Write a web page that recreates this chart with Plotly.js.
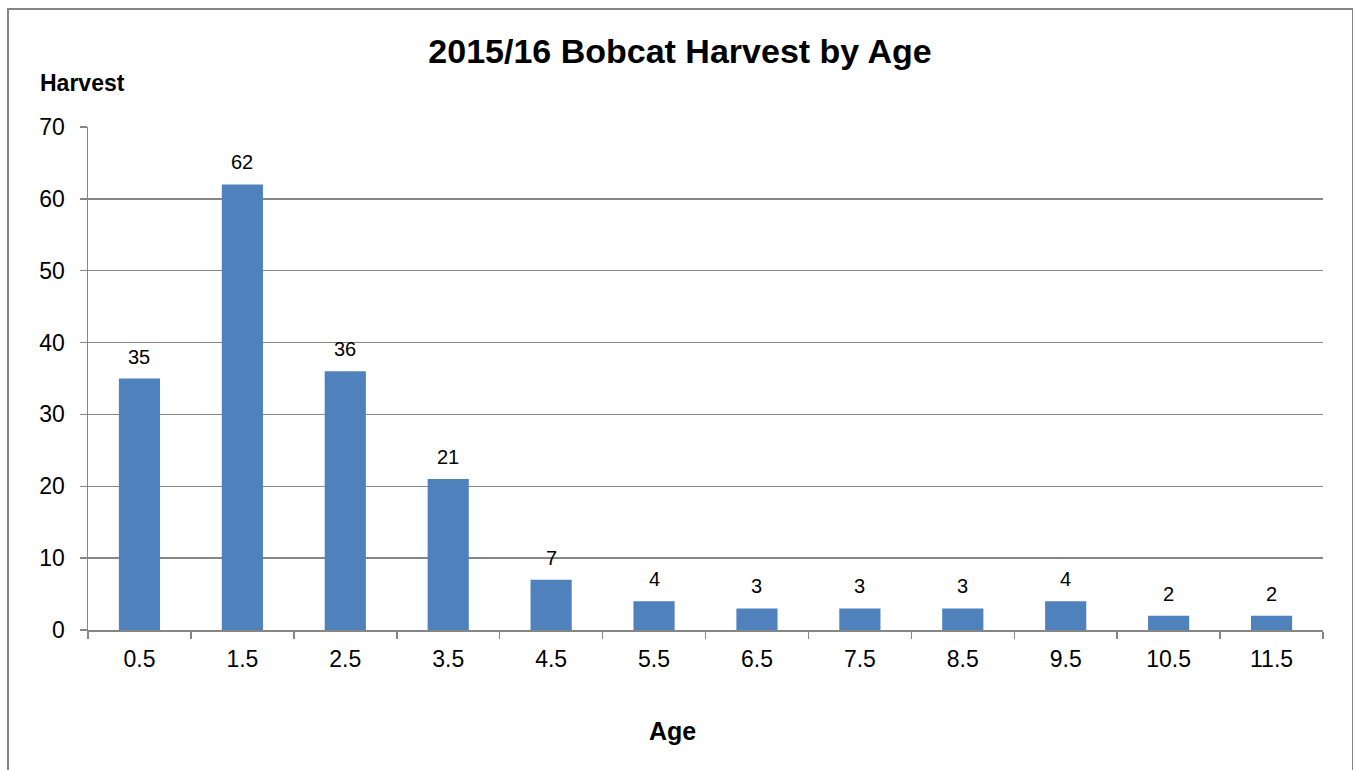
<!DOCTYPE html>
<html>
<head>
<meta charset="utf-8">
<script src="https://cdn.plot.ly/plotly-3.0.1.min.js"></script>
<style>
html,body{margin:0;padding:0;background:#fff;}
#chart{position:absolute;left:0;top:0;width:1353px;height:770px;}
#frame{position:absolute;left:7px;top:8px;width:1343px;height:800px;border:2px solid #868686;pointer-events:none;}
</style>
</head>
<body>
<div id="chart"></div>
<div id="frame"></div>
<script>
const ages = ['0.5','1.5','2.5','3.5','4.5','5.5','6.5','7.5','8.5','9.5','10.5','11.5'];
const harvest = [35, 62, 36, 21, 7, 4, 3, 3, 3, 4, 2, 2];

const font = 'Liberation Sans, Arial, sans-serif';
const trace = {
  type: 'bar',
  x: ages,
  y: harvest,
  marker: {color: '#4F81BD'},
  width: 0.4,
  hoverinfo: 'x+y'
};
const axisColor = '#868686';
// category axis: annotation positions use the category index
const labelAnns = ages.map((a, i) => ({
  x: i, y: harvest[i], xref: 'x', yref: 'y', text: String(harvest[i]),
  showarrow: false, xanchor: 'center', yanchor: 'bottom', yshift: 9,
  font: {family: font, size: 20, color: '#000'}
}));
const layout = {
  width: 1353, height: 770,
  margin: {l: 88, r: 30, t: 127, b: 140},
  paper_bgcolor: '#fff', plot_bgcolor: '#fff',
  showlegend: false,
  font: {family: font, color: '#000'},
  title: {text: '<b>2015/16 Bobcat Harvest by Age</b>', font: {family: font, size: 34, color: '#000'},
          xref: 'container', x: 680 / 1353, xanchor: 'center', yref: 'container', y: 1 - 51/770, yanchor: 'middle'},
  xaxis: {type: 'category', range: [-0.5, ages.length - 0.5], tickson: 'boundaries', ticks: 'outside', ticklen: 7,
          tickcolor: axisColor, tickwidth: 1.5,
          showline: true, linecolor: axisColor, linewidth: 1.5, showgrid: false, zeroline: false,
          tickfont: {family: font, size: 23, color: '#000'}, ticklabelstandoff: 8, fixedrange: true},
  yaxis: {range: [0, 70], dtick: 10, ticks: 'outside', ticklen: 7, tickcolor: axisColor, tickwidth: 1.5,
          showline: true, linecolor: axisColor, linewidth: 1.5, showgrid: true, gridcolor: axisColor, gridwidth: 1.5,
          zeroline: false, tickfont: {family: font, size: 23, color: '#000'}, ticklabelstandoff: 10, fixedrange: true},
  bargap: 0.6,
  annotations: labelAnns.concat([
    {text: '<b>Harvest</b>', xref: 'paper', yref: 'paper', x: (38 - 88) / 1235, y: (630 - 83) / 503,
     xanchor: 'left', yanchor: 'middle', showarrow: false, font: {family: font, size: 23, color: '#000'}},
    {text: '<b>Age</b>', xref: 'paper', yref: 'paper', x: (672 - 88) / 1235, y: (630 - 731) / 503,
     xanchor: 'center', yanchor: 'middle', showarrow: false, font: {family: font, size: 25, color: '#000'}}
  ])
};
Plotly.newPlot('chart', [trace], layout, {displayModeBar: false, staticPlot: true});
</script>
</body>
</html>
